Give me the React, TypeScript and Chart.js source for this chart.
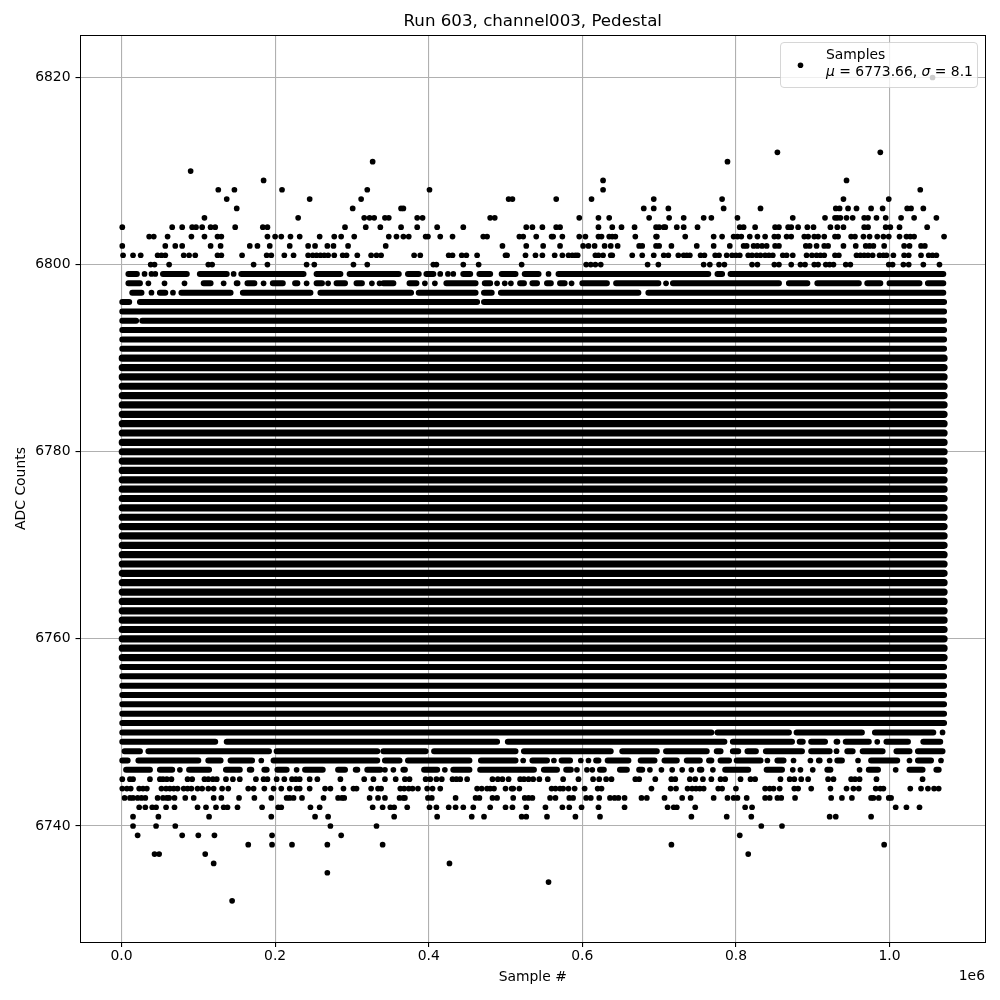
import React, { useEffect, useRef } from "react";
import { Chart, registerables } from "chart.js";

Chart.register(...registerables);

const chartTitle = "Run 603, channel003, Pedestal";
const xAxisTitle = "Sample #";
const yAxisTitle = "ADC Counts";
const xOffsetLabel = "1e6";
const legendName = "Samples";
const legendMean = "6773.66";
const legendSigma = "8.1";
const xTicks = [0, 200000, 400000, 600000, 800000, 1000000];
const yTicks = [6740, 6760, 6780, 6800, 6820];
const sampleScale = 1000; // the lists below are in thousands of samples

// individual samples that can be told apart: [ADC level, sample numbers in thousands]
const dotRows: [number, number[]][] = [
  [6820, [1056]],
  [6812, [854, 988]],
  [6811, [327, 789]],
  [6810, [90]],
  [6809, [185, 627, 944]],
  [6808, [126, 147, 209, 320, 401, 627, 1040]],
  [6807, [137, 245, 312, 504, 509, 566, 612, 693, 782, 940, 999]],
  [6806, [150, 301, 364, 367, 680, 693, 712, 784, 832, 930, 935, 946, 957, 976, 991, 1023, 1028, 1044]],
  [6805, [108, 230, 316, 323, 329, 343, 348, 385, 392, 480, 486, 596, 621, 635, 687, 713, 732, 758, 768, 802, 874, 916, 929, 932, 936, 944, 952, 967, 972, 983, 995, 1015, 1032, 1061]],
  [6804, [1, 66, 79, 92, 97, 105, 116, 122, 148, 184, 190, 291, 318, 337, 364, 385, 411, 445, 527, 535, 548, 566, 571, 621, 639, 651, 668, 696, 700, 706, 708, 723, 732, 750, 805, 810, 825, 851, 856, 868, 872, 881, 893, 901, 923, 932, 940, 967, 972, 995, 1001, 1013, 1049]],
  [6803, [36, 42, 60, 91, 108, 125, 130, 190, 200, 208, 220, 232, 258, 277, 286, 303, 348, 358, 367, 374, 396, 399, 415, 431, 471, 476, 518, 523, 540, 560, 562, 574, 596, 604, 621, 625, 635, 639, 643, 669, 696, 697, 734, 771, 782, 797, 802, 807, 818, 828, 838, 850, 855, 866, 872, 889, 894, 902, 907, 915, 929, 933, 950, 955, 966, 974, 984, 992, 999, 1013, 1022, 1027, 1032, 1071]],
  [6802, [1, 57, 70, 79, 116, 129, 167, 177, 193, 219, 243, 252, 268, 276, 295, 344, 496, 527, 549, 571, 601, 608, 616, 629, 637, 646, 674, 678, 696, 700, 716, 749, 771, 792, 810, 814, 823, 828, 834, 840, 851, 856, 891, 896, 905, 915, 920, 940, 956, 969, 974, 979, 993, 1019, 1026, 1041, 1046]],
  [6801, [2, 15, 25, 47, 52, 57, 81, 88, 96, 125, 130, 157, 189, 195, 212, 224, 243, 249, 254, 259, 264, 269, 277, 288, 293, 307, 325, 332, 338, 381, 389, 426, 431, 443, 449, 463, 500, 502, 526, 539, 548, 564, 574, 582, 587, 591, 594, 617, 621, 627, 637, 639, 665, 678, 693, 706, 712, 725, 732, 736, 740, 754, 759, 773, 778, 788, 795, 800, 805, 816, 821, 827, 832, 838, 843, 848, 861, 866, 874, 892, 899, 905, 910, 915, 929, 934, 957, 962, 967, 972, 978, 987, 992, 996, 1005, 1019, 1025, 1041, 1051, 1056, 1061]],
  [6800, [38, 43, 62, 113, 118, 172, 190, 241, 251, 302, 320, 406, 410, 445, 465, 521, 605, 611, 617, 624, 685, 699, 758, 766, 778, 785, 821, 828, 850, 856, 872, 884, 890, 902, 907, 917, 922, 927, 943, 949, 999, 1004, 1018, 1025, 1044, 1065]],
  [6799, [30, 39, 44, 146, 415, 425, 432, 556]],
  [6798, [35, 56, 82, 133, 185, 241, 269, 326, 336, 395, 408, 489, 499, 507, 586, 709]],
  [6797, [39, 67]],
  [6749, [984]],
  [6750, [1069]],
  [6748, [931]],
  [6747, [182, 523, 563, 598, 608, 841, 875, 897, 922, 959, 1026, 1067]],
  [6746, [76, 228, 343, 354, 421, 593, 606, 613, 688, 703, 717, 730, 742, 770, 874, 884, 900, 961, 1008]],
  [6745, [1, 11, 15, 37, 50, 54, 59, 65, 86, 92, 108, 113, 119, 124, 136, 145, 154, 175, 185, 190, 202, 212, 222, 227, 232, 245, 255, 285, 316, 328, 343, 357, 369, 375, 396, 402, 410, 417, 431, 436, 441, 450, 483, 490, 496, 504, 519, 524, 530, 536, 544, 555, 575, 595, 614, 622, 631, 638, 669, 674, 695, 716, 721, 740, 747, 757, 768, 780, 786, 806, 819, 825, 858, 870, 876, 885, 894, 920, 927, 950, 955, 961, 983, 1043]],
  [6744, [1, 7, 12, 23, 28, 33, 52, 58, 63, 68, 73, 81, 86, 91, 99, 105, 113, 120, 131, 139, 165, 172, 186, 198, 208, 219, 228, 232, 245, 265, 272, 289, 302, 306, 325, 334, 338, 363, 368, 374, 379, 386, 398, 405, 415, 463, 469, 476, 480, 485, 500, 508, 510, 518, 560, 565, 571, 575, 582, 590, 603, 620, 625, 690, 715, 722, 737, 743, 748, 753, 758, 777, 782, 800, 838, 844, 849, 857, 876, 881, 898, 923, 944, 953, 960, 982, 988, 992, 1027, 1041, 1050, 1058, 1064]],
  [6743, [4, 11, 15, 21, 26, 31, 47, 54, 59, 62, 69, 83, 94, 120, 130, 153, 173, 195, 215, 219, 224, 235, 263, 282, 287, 290, 323, 334, 343, 362, 367, 369, 399, 404, 435, 461, 466, 483, 489, 510, 525, 530, 535, 558, 565, 583, 588, 605, 611, 622, 636, 642, 647, 655, 677, 684, 707, 730, 741, 771, 789, 797, 802, 814, 838, 844, 854, 859, 877, 924, 938, 951, 976, 979, 986, 999, 1002]],
  [6742, [23, 31, 40, 45, 58, 69, 99, 110, 123, 133, 138, 151, 183, 204, 208, 246, 258, 327, 340, 350, 355, 372, 401, 410, 426, 435, 445, 458, 480, 500, 509, 527, 552, 574, 583, 599, 621, 655, 711, 719, 723, 747, 812, 821, 1008, 1022, 1039]],
  [6741, [15, 48, 114, 195, 252, 269, 355, 411, 456, 472, 521, 527, 554, 591, 623, 742, 788, 820, 922, 930, 976]],
  [6740, [15, 45, 70, 272, 332, 833, 860]],
  [6739, [21, 79, 100, 121, 196, 286, 805]],
  [6738, [165, 196, 222, 268, 340, 716, 993]],
  [6737, [43, 49, 109, 816]],
  [6736, [120, 427]],
  [6735, [268]],
  [6734, [556]],
  [6732, [144]],
];

// rows where overplotting makes one unbroken, heavier bar: first and last level
const coreLevels = [6758, 6790];
const coreSpan: [number, number] = [1, 1071];

// stretches where the samples merge into a bar: [ADC level, [first, last] in thousands]
const runRows: [number, [number, number][]][] = [
  [6799, [[9, 20], [54, 85], [102, 137], [156, 237], [254, 285], [297, 361], [373, 387], [397, 406], [445, 454], [466, 480], [495, 513], [525, 543], [569, 764], [776, 782], [793, 1070]]],
  [6798, [[9, 24], [107, 116], [150, 151], [164, 173], [197, 210], [226, 229], [254, 261], [280, 291], [306, 313], [341, 354], [375, 384], [423, 461], [473, 480], [519, 524], [535, 541], [554, 559], [571, 577], [600, 632], [644, 699], [718, 856], [869, 893], [906, 960], [971, 988], [1000, 1039], [1050, 1070]]],
  [6797, [[14, 26], [50, 57], [78, 142], [158, 246], [259, 377], [387, 461], [472, 482], [494, 673], [686, 1070]]],
  [6796, [[1, 10], [24, 463], [472, 1071]]],
  [6795, [[1, 1071]]],
  [6794, [[1, 19], [27, 1071]]],
  [6793, [[1, 1071]]],
  [6792, [[1, 1071]]],
  [6791, [[1, 1071]]],
  [6757, [[1, 1071]]],
  [6756, [[1, 1071]]],
  [6755, [[1, 1071]]],
  [6754, [[1, 1071]]],
  [6753, [[1, 1071]]],
  [6752, [[1, 1071]]],
  [6751, [[1, 1071]]],
  [6750, [[1, 768], [776, 869], [879, 964], [981, 1057]]],
  [6749, [[1, 122], [137, 489], [503, 785], [796, 873], [883, 887], [898, 916], [931, 932], [943, 973], [996, 1024], [1044, 1066]]],
  [6748, [[4, 24], [35, 192], [202, 333], [341, 396], [407, 513], [524, 637], [652, 697], [709, 762], [775, 780], [796, 803], [815, 826], [839, 886], [898, 922], [945, 952], [965, 991], [1009, 1026], [1037, 1069]]],
  [6747, [[1, 8], [22, 100], [113, 129], [142, 170], [198, 333], [343, 362], [373, 453], [468, 513], [535, 554], [573, 584], [618, 621], [633, 660], [676, 694], [707, 723], [736, 753], [765, 768], [780, 791], [801, 832], [854, 862], [908, 909], [932, 938], [976, 1010], [1037, 1054]]],
  [6746, [[6, 37], [50, 66], [88, 114], [136, 154], [167, 169], [186, 189], [203, 215], [239, 262], [282, 291], [305, 307], [320, 337], [367, 369], [394, 411], [432, 453], [467, 537], [550, 567], [579, 585], [623, 628], [649, 658], [674, 678], [753, 755], [786, 816], [840, 860], [919, 923], [973, 985], [1026, 1043], [1061, 1064]]],
];

const dotPoints = dotRows.flatMap(([level, xs]) => xs.map((x) => ({ x: x * sampleScale, y: level })));
const segment = (level: number, [a, b]: [number, number]) => [
  { x: a * sampleScale, y: level },
  { x: b * sampleScale, y: level },
  { x: b * sampleScale, y: null as unknown as number },
];
const runPoints = runRows.flatMap(([level, runs]) => runs.flatMap((r) => segment(level, r)));
const coreRows: number[] = [];
for (let l = coreLevels[0]; l <= coreLevels[1]; l++) coreRows.push(l);
const corePoints = coreRows.flatMap((level) => segment(level, coreSpan));

const FONT = '"DejaVu Sans"';

const framePlugin = {
  id: "frame",
  afterDraw(chart: any) {
    const { ctx, chartArea: a } = chart;
    ctx.save();
    ctx.strokeStyle = "#000";
    ctx.lineWidth = 1;
    const l = Math.floor(a.left) + 0.5;
    const t = Math.round(a.top) + 0.5;
    ctx.strokeRect(l, t, Math.round(a.right) + 0.5 - l, Math.round(a.bottom) + 0.5 - t);

    // x-axis offset text
    ctx.fillStyle = "#000";
    ctx.font = `13.9px ${FONT}`;
    ctx.textAlign = "right";
    ctx.textBaseline = "alphabetic";
    ctx.fillText(xOffsetLabel, a.right, 980);

    // legend
    const bx = 780, by = 42, bw = 197, bh = 45, r = 3.5;
    ctx.beginPath();
    ctx.roundRect(bx + 0.5, by + 0.5, bw, bh, r);
    ctx.fillStyle = "rgba(255,255,255,0.8)";
    ctx.fill();
    ctx.strokeStyle = "rgba(204,204,204,0.8)";
    ctx.lineWidth = 1;
    ctx.stroke();

    ctx.fillStyle = "#000";
    ctx.beginPath();
    ctx.arc(800.5, 65.3, 2.8, 0, Math.PI * 2);
    ctx.fill();

    const tx = 826;
    ctx.textAlign = "left";
    ctx.font = `13.9px ${FONT}`;
    ctx.fillText(legendName, tx, 59);
    let x = tx;
    const y2 = 76;
    const part = (s: string, italic: boolean) => {
      ctx.font = `${italic ? "italic " : ""}13.9px ${FONT}`;
      ctx.fillText(s, x, y2);
      x += ctx.measureText(s).width;
    };
    part("μ", true);
    part(` = ${legendMean}, `, false);
    part("σ", true);
    part(` = ${legendSigma}`, false);
    ctx.restore();
  },
};

export default function App() {
  const ref = useRef<HTMLCanvasElement>(null);
  useEffect(() => {
    document.body.style.margin = "0";
    const bar = {
      showLine: true,
      spanGaps: false,
      borderColor: "#000",
      backgroundColor: "#000",
      borderCapStyle: "round",
      pointRadius: 0,
      pointHoverRadius: 0,
    };
    const chart = new Chart(ref.current!, {
      type: "scatter",
      data: {
        datasets: [
          { ...bar, label: legendName, data: corePoints, borderWidth: 7.2 },
          { ...bar, label: legendName, data: runPoints, borderWidth: 6 },
          {
            label: legendName,
            data: dotPoints,
            showLine: false,
            borderColor: "#000",
            backgroundColor: "#000",
            pointRadius: 2.85,
            pointBorderWidth: 0,
            pointHoverRadius: 2.85,
          },
        ],
      } as any,
      options: {
        responsive: false,
        animation: false,
        layout: { padding: { left: 0, right: 15, top: 0, bottom: 0 } },
        plugins: {
          legend: { display: false },
          tooltip: { enabled: false },
          title: {
            display: true,
            text: chartTitle,
            color: "#000",
            fullSize: false,
            font: { family: FONT, size: 16.67, weight: "normal", lineHeight: 1.2 },
            padding: { top: 12, bottom: 3 },
          },
        },
        scales: {
          x: {
            type: "linear",
            min: -53400,
            max: 1124300,
            afterFit: (s: any) => { s.height = 58; },
            afterBuildTicks: (s: any) => { s.ticks = xTicks.map((value) => ({ value })); },
            grid: { color: "#b0b0b0", lineWidth: 1.1, tickColor: "#000", tickLength: 5, drawOnChartArea: true },
            border: { display: false },
            ticks: {
              color: "#000",
              padding: 1,
              maxRotation: 0,
              font: { family: FONT, size: 13.9 },
              callback: (v: any) => (Number(v) / 1e6).toFixed(1),
            },
            title: { display: true, text: xAxisTitle, color: "#000", font: { family: FONT, size: 13.9 }, padding: { top: 0, bottom: 14 } },
          },
          y: {
            type: "linear",
            min: 6727.6,
            max: 6824.54,
            afterFit: (s: any) => { s.width = 80.5; },
            afterBuildTicks: (s: any) => { s.ticks = yTicks.map((value) => ({ value })); },
            grid: { color: "#b0b0b0", lineWidth: 1.1, tickColor: "#000", tickLength: 5 },
            border: { display: false },
            ticks: {
              color: "#000",
              padding: 5,
              font: { family: FONT, size: 13.9 },
              callback: (v: any) => String(v),
            },
            title: { display: true, text: yAxisTitle, color: "#000", font: { family: FONT, size: 13.9 }, padding: { top: 13, bottom: 0 } },
          },
        },
      } as any,
      plugins: [framePlugin],
    });
    return () => chart.destroy();
  }, []);
  return <canvas ref={ref} width={1000} height={1000} style={{ display: "block" }} />;
}
